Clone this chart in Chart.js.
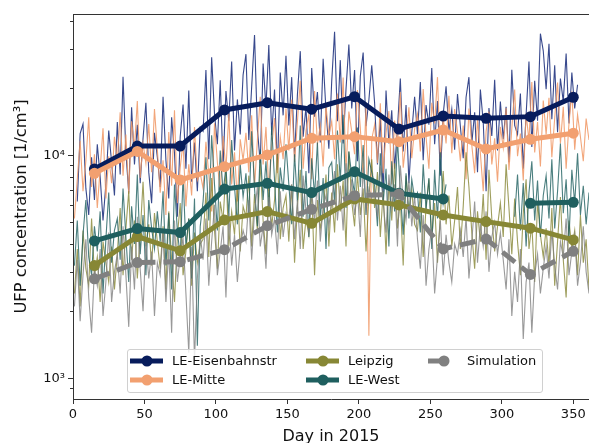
<!DOCTYPE html>
<html>
<head>
<meta charset="utf-8">
<script src="https://cdn.jsdelivr.net/npm/chart.js@4.4.1/dist/chart.umd.min.js"></script>
<style>
  body { margin: 0; overflow: hidden; background: #fff; font-family: 'DejaVu Sans', sans-serif; }
  #wrap { position: relative; width: 589px; height: 443px; overflow: hidden; }
  #legend { position: absolute; left: 127px; top: 349px; width: 416px; height: 44px; box-sizing: border-box;
            border: 1px solid #d0d0d0; border-radius: 3px; background: rgba(255,255,255,0.8); }
  .item { position: absolute; height: 16px; font-size: 13px; line-height: 16px; color: #111; white-space: nowrap; }
  .item svg { position: absolute; top: 1px; }
</style>
</head>
<body>
<div id="wrap">
  <canvas id="ufpChart" width="589" height="460"></canvas>
  <div id="legend"></div>
</div>
<script>
// monthly means (1/cm³)
const monthDays = [15, 45, 75, 106, 136, 167, 197, 228, 259, 289, 320, 350];
const eisenbahnMonthly = [8670, 11000, 11000, 15960, 17200, 16100, 18300, 13100, 15000, 14650, 14900, 18200];
const mitteMonthly = [8300, 10400, 7750, 8890, 10030, 11920, 12120, 11510, 12980, 10670, 11790, 12560];
const leipzigMonthly = [3200, 4320, 3730, 5130, 5590, 4950, 6370, 5990, 5400, 5040, 4710, 4170];
const westMonthly = [4130, 4690, 4500, 7050, 7480, 6800, 8440, 6760, 6370, null, 6090, 6150];
const simMonthly = [2790, 3300, 3330, 3770, 4830, 5720, 6590, 6700, 3800, 4210, 2920, 3710];

// daily values in thousands of 1/cm³, one value every 2 days starting at day 1
const dailyStart = 1;
const dailyStep = 2;
const eisenbahnDaily = [
  null, 6.2, 12.5, 13.8, 7.1, 5.4, 9.8, 6.3, 11.2, 8.0, 5.1, 7.4, 12.9, 9.3, 6.6,
  14.1, 8.2, 22.5, 10.3, 6.8, 16.4, 9.1, 13.7, 7.5, 11.9, 17.2, 8.4, 6.1, 12.6, 9.8,
  7.2, 18.3, 9.5, 6.4, 14.8, 10.2, 5.3, 12.1, 16.9, 8.7, 19.5, 7.6, 11.4, 6.9, 13.3,
  12.8, 24.1, 9.6, 27.5, 15.3, 11.2, 21.7, 8.9, 19.4, 14.2, 26.3, 10.5, 17.8, 12.4, 22.9,
  28.4, 11.7, 20.3, 34.6, 13.1, 9.2, 25.8, 16.4, 31.2, 12.3, 19.7, 8.6, 23.5, 15.1, 27.9,
  13.6, 22.4, 9.8, 18.7, 29.3, 12.1, 16.5, 8.3, 24.6, 14.9, 19.2, 11.4, 27.1, 15.8, 10.7,
  21.5, 35.8, 14.2, 26.7, 11.3, 19.8, 31.4, 16.2, 24.1, 9.4, 22.6, 28.9, 13.5, 17.7, 25.3,
  17.2, 9.1, 14.6, 6.8, 19.5, 11.3, 15.9, 8.7, 13.2, 22.1, 10.4, 16.8, 7.5, 12.6, 18.3,
  12.4, 21.3, 9.5, 16.8, 13.7, 24.6, 11.2, 17.5, 8.1, 15.3, 20.4, 12.9, 16.1, 10.6, 18.8,
  13.5, 9.7, 18.2, 22.4, 11.3, 15.6, 8.4, 19.7, 14.1, 6.9, 16.3, 12.2, 21.8, 10.5, 17.4,
  11.8, 16.5, 9.3, 24.2, 13.6, 12.4, 18.9, 8.7, 15.2, 26.3, 10.9, 21.6, 14.3, 35.1, 29.4,
  19.8, 31.6, 14.5, 25.3, 12.7, 22.1, 17.4, 28.6, 13.9, 23.5, 16.2, 20.7, null, null, null, null, null
];
const mitteDaily = [
  5.2, 7.8, 11.6, 6.9, 9.4, 14.8, 7.2, 10.1, 5.8, 8.7, 13.2, 6.4, 9.9, 7.5, 12.1,
  9.3, 15.6, 8.1, 12.4, 6.7, 14.2, 10.8, 17.5, 7.9, 11.3, 9.2, 13.8, 8.4, 16.1, 10.6,
  6.8, 9.5, 5.4, 12.7, 7.3, 15.9, 6.1, 8.8, 11.4, 5.9, 9.1, 6.6, 13.4, 7.7, 8.3,
  7.1, 11.5, 8.2, 5.6, 13.9, 9.3, 6.8, 12.2, 8.6, 15.4, 7.4, 10.3, 6.2, 11.8, 9.5,
  12.6, 8.4, 15.1, 7.2, 11.7, 18.3, 9.1, 13.4, 6.9, 10.8, 14.7, 8.3, 12.1, 9.6, 16.2,
  10.5, 17.8, 9.3, 14.1, 21.6, 8.7, 12.9, 15.3, 7.8, 19.4, 11.2, 13.6, 8.9, 16.7, 12.3,
  14.2, 9.6, 18.9, 11.4, 22.3, 8.5, 15.7, 12.8, 10.1, 19.6, 13.3, 7.9, 16.4, 1.55, 11.8,
  13.7, 9.2, 17.1, 8.3, 12.6, 15.8, 7.4, 14.3, 10.9, 19.2, 8.8, 11.5, 16.4, 9.7, 13.1,
  15.3, 10.4, 19.8, 12.1, 8.7, 17.2, 13.9, 22.4, 9.6, 14.8, 11.3, 18.5, 10.2, 16.1, 12.7,
  9.4, 13.6, 7.8, 16.2, 11.1, 8.3, 14.5, 10.2, 6.9, 12.8, 15.7, 9.1, 11.9, 7.6, 13.4,
  10.8, 16.3, 8.6, 13.2, 19.7, 9.9, 12.5, 7.7, 15.4, 11.6, 21.3, 10.3, 14.1, 8.9, 17.6,
  12.4, 18.1, 9.8, 14.7, 21.2, 11.3, 16.5, 8.7, 13.9, 19.3, 10.6, 15.2, 12.1, 9.4, 14.6, 11.7, 13.3
];
const leipzigDaily = [
  2.4, 3.8, 2.1, 4.6, 3.1, 2.6, 5.2, 2.9, 3.5, 2.2, 4.1, 3.3, 2.7, 3.9, 2.5,
  3.6, 5.8, 2.9, 4.7, 6.9, 3.4, 5.1, 2.8, 4.4, 7.6, 3.9, 4.9, 3.2, 5.5, 4.1,
  3.1, 4.8, 2.5, 5.6, 3.4, 2.2, 4.3, 6.1, 2.9, 3.7, 5.2, 2.6, 4.5, 3.3, 4.0,
  4.2, 6.8, 3.5, 7.9, 4.6, 3.1, 6.2, 5.1, 8.7, 3.9, 5.6, 4.4, 7.3, 3.7, 5.9,
  5.3, 8.1, 3.9, 6.7, 4.6, 9.4, 5.1, 3.6, 7.2, 4.8, 6.3, 10.2, 4.2, 5.8, 6.6,
  4.1, 7.4, 3.3, 5.9, 8.6, 3.8, 5.2, 4.4, 7.1, 2.9, 6.3, 4.7, 5.5, 8.2, 3.9,
  6.8, 4.5, 9.1, 5.6, 7.7, 3.9, 10.4, 6.2, 4.8, 8.3, 5.4, 7.1, 3.7, 6.5, 9.6,
  5.8, 8.4, 4.3, 6.9, 3.6, 7.5, 5.1, 9.2, 4.7, 6.3, 3.2, 8.1, 5.5, 7.0, 4.9,
  4.6, 6.8, 3.5, 5.9, 7.8, 4.2, 6.1, 3.3, 5.4, 8.5, 4.9, 6.6, 3.9, 5.1, 7.2,
  3.8, 5.9, 10.3, 7.2, 4.5, 3.1, 5.6, 4.1, 6.7, 3.4, 8.6, 5.2, 3.7, 4.8, 6.1,
  4.3, 9.1, 5.8, 3.6, 6.4, 4.1, 2.9, 5.5, 7.8, 3.8, 4.9, 2.7, 6.2, 4.4, 3.5,
  4.7, 3.2, 5.8, 2.6, 4.1, 6.5, 3.4, 2.3, 5.1, 3.8, 4.6, 2.9, 5.4, 3.3, 4.2, 2.5, 3.9
];
const westDaily = [
  3.2, 5.1, 2.6, 4.4, 6.3, 3.5, 2.9, 4.8, 3.7, 5.6, 2.4, 4.2, 6.8, 3.3, 4.6,
  5.2, 3.4, 7.1, 4.3, 2.7, 5.9, 4.0, 8.2, 3.6, 5.4, 2.9, 6.3, 4.7, 3.8, 5.6,
  4.1, 6.9, 3.2, 5.5, 2.5, 7.4, 4.6, 3.5, 8.1, 3.9, 5.2, 2.8, 6.4, 1.4, 4.8,
  6.2, 9.8, 5.1, 12.3, 7.4, 4.6, 10.5, 6.8, 8.9, 5.3, 11.7, 7.2, 4.9, 9.1, 6.5,
  8.3, 5.4, 12.8, 7.1, 4.8, 10.6, 6.3, 9.4, 5.6, 13.5, 7.7, 4.5, 8.8, 6.9, 11.2,
  7.4, 4.9, 10.1, 6.2, 13.6, 5.3, 8.5, 4.3, 9.7, 6.6, 11.4, 5.1, 7.9, 3.8, 8.8,
  9.3, 6.1, 12.9, 7.6, 15.2, 5.8, 10.4, 8.1, 6.7, 13.3, 7.2, 11.1, 5.4, 9.6, 8.4,
  7.3, 4.8, 10.2, 6.1, 8.7, 3.9, 9.4, 5.6, 11.8, 6.9, 4.4, 8.3, 5.2, 7.8, 6.4,
  6.8, 4.5, 9.1, 5.7, 7.9, 3.8, 8.6, 5.2, 10.3, 6.1, 7.4, null, null, null, null,
  null, null, null, null, null, null, null, null, null, null, null, null, null, null, null,
  null, null, null, null, 5.3, 8.2, 4.6, 7.5, 3.9, 6.8, 9.4, 5.1, 7.7, 4.3, 6.6,
  8.1, 5.2, 9.6, 4.7, 6.9, 11.3, 5.5, 7.8, 4.2, 8.6, 6.1, 10.2, 5.4, 7.3, 4.9, 6.8, 5.8
];
const simDaily = [
  2.1, 3.4, 1.8, 2.9, 4.2, 2.3, 1.6, 3.1, 2.6, 3.8, 1.9, 2.7, 4.5, 2.2, 3.0,
  3.6, 2.4, 4.8, 2.9, 1.7, 3.9, 2.5, 5.3, 3.1, 2.0, 4.1, 2.8, 3.7, 1.9, 3.3,
  2.9, 4.6, 2.2, 3.8, 1.6, 5.1, 2.7, 3.5, 4.3, 2.4, 1.3, 3.9, 1.2, 2.8, 4.4,
  3.4, 5.2, 2.6, 4.1, 6.0, 2.9, 3.7, 4.8, 2.3, 5.5, 3.2, 4.4, 2.7, 3.9, 4.6,
  4.1, 6.3, 3.4, 5.6, 7.2, 3.9, 4.8, 3.1, 6.5, 4.4, 5.2, 3.6, 6.9, 4.3, 5.5,
  5.1, 7.4, 4.2, 6.3, 3.8, 8.1, 5.6, 4.5, 6.9, 5.0, 7.7, 4.1, 5.9, 6.6, 4.8,
  6.2, 8.5, 5.1, 7.3, 4.6, 9.2, 6.0, 7.8, 5.4, 6.9, 4.3, 8.8, 5.7, 7.1, 6.4,
  7.0, 5.3, 8.9, 6.1, 4.5, 8.2, 5.8, 7.4, 3.9, 9.0, 6.3, 5.1, 7.7, 4.8, 6.6,
  4.2, 3.1, 5.4, 2.6, 3.8, 4.7, 2.4, 3.5, 5.1, 2.9, 4.4, 3.3, 2.7, 4.0, 3.6,
  4.6, 3.5, 5.3, 2.8, 4.1, 6.2, 3.3, 4.9, 3.9, 5.6, 3.0, 4.3, 5.0, 3.6, 4.5,
  3.4, 2.5, 4.2, 1.9, 3.0, 2.2, 3.8, 1.5, 2.7, 3.3, 1.6, 2.9, 3.6, 2.4, 3.1,
  3.9, 2.8, 4.6, 3.2, 2.5, 4.1, 3.5, 5.2, 2.9, 3.7, 4.4, 2.6, 3.3, 4.8, 3.0, 2.4, 3.6
];

const xTicks = [0, 50, 100, 150, 200, 250, 300, 350];
const yMajor = [1000, 10000];
const yLabels = ['10³', '10⁴'];
const yMinor = [900, 2000, 3000, 4000, 5000, 6000, 7000, 8000, 9000, 20000, 30000, 40000];

const fontFamily = "'DejaVu Sans', sans-serif";

const series = [
  { label: 'LE-Eisenbahnstr', monthly: eisenbahnMonthly, daily: eisenbahnDaily, color: '#071c5c', thin: 'rgba(28,48,125,0.88)' },
  { label: 'LE-Mitte', monthly: mitteMonthly, daily: mitteDaily, color: '#f2a070', thin: 'rgba(240,150,100,0.85)' },
  { label: 'Leipzig', monthly: leipzigMonthly, daily: leipzigDaily, color: '#878735', thin: 'rgba(134,134,52,0.8)' },
  { label: 'LE-West', monthly: westMonthly, daily: westDaily, color: '#1f5f5f', thin: 'rgba(30,95,95,0.8)' },
  { label: 'Simulation', monthly: simMonthly, daily: simDaily, color: '#808080', thin: 'rgba(128,128,128,0.8)', dash: [16, 8] }
];

const datasets = [];
series.forEach((s, k) => {
  datasets.push({
    label: s.label + ' daily',
    data: s.daily.map((v, i) => ({ x: dailyStart + i * dailyStep, y: v === null ? null : v * 1000 })),
    borderColor: s.thin,
    borderWidth: 1.1,
    pointRadius: 0,
    spanGaps: false,
    order: 20 - k
  });
});
series.forEach((s, k) => {
  datasets.push({
    label: s.label,
    data: s.monthly.map((v, i) => ({ x: monthDays[i], y: v })),
    borderColor: s.color,
    backgroundColor: s.color,
    borderWidth: 5,
    borderDash: s.dash || [],
    pointRadius: 5.5,
    pointBorderWidth: 0,
    pointBackgroundColor: s.color,
    spanGaps: false,
    order: 5 - k
  });
});

const frame = {
  id: 'frame',
  afterDraw(chart) {
    const { ctx, chartArea, scales } = chart;
    ctx.save();
    ctx.strokeStyle = '#333';
    ctx.lineWidth = 1;
    ctx.beginPath();
    ctx.moveTo(chartArea.left, Math.round(chartArea.top) + 0.5);
    ctx.lineTo(chartArea.right, Math.round(chartArea.top) + 0.5);
    yMinor.forEach(v => {
      const y = Math.round(scales.y.getPixelForValue(v)) + 0.5;
      ctx.moveTo(chartArea.left - 3, y);
      ctx.lineTo(chartArea.left, y);
    });
    ctx.stroke();
    ctx.restore();
  }
};

new Chart(document.getElementById('ufpChart'), {
  type: 'line',
  data: { datasets },
  options: {
    responsive: false,
    animation: false,
    layout: { autoPadding: false, padding: { top: 14, left: 0, right: 0, bottom: 0 } },
    plugins: { legend: { display: false }, tooltip: { enabled: false } },
    scales: {
      x: {
        type: 'linear',
        min: 0,
        max: 361,
        afterBuildTicks: s => { s.ticks = xTicks.map(v => ({ value: v })); },
        afterFit: s => { s.height = 61; s.paddingLeft = 0; s.paddingRight = 0; },
        ticks: { font: { family: fontFamily, size: 13 }, color: '#111', padding: 3, maxRotation: 0, autoSkip: false },
        grid: { drawOnChartArea: false, tickLength: 5, tickColor: '#333' },
        border: { color: '#333', width: 1 },
        title: { display: true, text: 'Day in 2015', font: { family: fontFamily, size: 16 }, color: '#111', padding: { top: 0, bottom: 14 } }
      },
      y: {
        type: 'logarithmic',
        min: 807,
        max: 43000,
        afterBuildTicks: s => { s.ticks = yMajor.map(v => ({ value: v })); },
        afterFit: s => { s.width = 73; s.paddingTop = 0; s.paddingBottom = 0; },
        ticks: { callback: v => yLabels[yMajor.indexOf(v)], font: { family: fontFamily, size: 13 }, color: '#111', padding: 3 },
        grid: { drawOnChartArea: false, tickLength: 5, tickColor: '#333' },
        border: { color: '#333', width: 1 },
        title: { display: true, text: 'UFP concentration [1/cm³]', font: { family: fontFamily, size: 16.3 }, color: '#111', padding: { top: 12, bottom: 0 } }
      }
    }
  },
  plugins: [frame]
});

// legend, laid out inside the plot like the original
const legendPos = [
  { left: 2, top: 3 }, { left: 2, top: 22 }, { left: 178, top: 3 }, { left: 178, top: 22 }, { left: 300, top: 3 }
];
const legendEl = document.getElementById('legend');
series.forEach((s, k) => {
  const p = legendPos[k];
  const item = document.createElement('div');
  item.className = 'item';
  item.style.left = p.left + 'px';
  item.style.top = p.top + 'px';
  const line = s.dash
    ? '<line x1="0" y1="7" x2="17" y2="7" stroke="' + s.color + '" stroke-width="5"/>'
    : '<line x1="0" y1="7" x2="33" y2="7" stroke="' + s.color + '" stroke-width="5"/>';
  item.innerHTML = '<svg width="34" height="14">' + line +
    '<circle cx="' + (s.dash ? 16 : 17) + '" cy="7" r="5.5" fill="' + s.color + '"/></svg>' +
    '<span style="position:absolute;left:' + (s.dash ? 39 : 42) + 'px;top:0">' + s.label + '</span>';
  legendEl.appendChild(item);
});
</script>
</body>
</html>
